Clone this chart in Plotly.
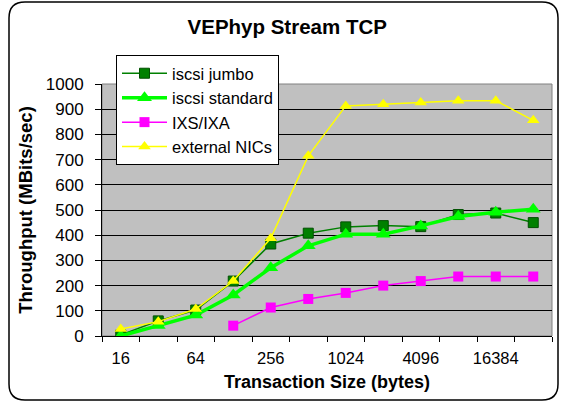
import plotly.graph_objects as go

# transaction sizes (bytes) and throughput values (MBits/sec)
sizes = ['16', '32', '64', '128', '256', '512', '1024', '2048', '4096', '8192', '16384', '32768']
size_labels = ['16', '', '64', '', '256', '', '1024', '', '4096', '', '16384', '']

iscsi_jumbo = [4, 60, 103, 218, 365, 408, 433, 438, 434, 482, 488, 450]
iscsi_standard = [0, 42, 83, 163, 271, 358, 404, 404, 437, 474, 491, 503]
ixs_ixa = [None, None, None, 41, 113, 147, 171, 200, 218, 236, 236, 236]
external_nics = [28, 57, 107, 218, 388, 715, 913, 920, 927, 934, 934, 856]

FONT = 'Liberation Sans, Arial, sans-serif'

# plot area in pixels (used to place the outer frame and legend)
L, R, T, B = 102, 552, 84, 336
W, H = 561, 402


def px(x):
    return (x - L) / (R - L)


def py(y):
    return (B - y) / (B - T)


fig = go.Figure()

fig.add_trace(go.Scatter(
    x=sizes, y=iscsi_jumbo, name='iscsi jumbo', mode='lines+markers',
    line=dict(color='#008000', width=1.5),
    marker=dict(symbol='square', size=10, color='#008000',
                line=dict(color='#005000', width=1))))
fig.add_trace(go.Scatter(
    x=sizes, y=iscsi_standard, name='iscsi standard', mode='lines+markers',
    line=dict(color='#00FF00', width=3.5),
    marker=dict(symbol='triangle-up', size=13, color='#00FF00')))
fig.add_trace(go.Scatter(
    x=sizes, y=ixs_ixa, name='IXS/IXA', mode='lines+markers',
    line=dict(color='#FF00FF', width=1.5),
    marker=dict(symbol='square', size=10, color='#FF00FF')))
fig.add_trace(go.Scatter(
    x=sizes, y=external_nics, name='external NICs', mode='lines+markers',
    line=dict(color='#FFFF00', width=1.5),
    marker=dict(symbol='triangle-up', size=11, color='#FFFF00')))

# rounded outer frame
x0, x1, y0, y1, r = 9, 558, 2, 400, 16
path = ('M {a},{b} L {c},{b} Q {d},{b} {d},{e} L {d},{f} Q {d},{g} {c},{g} '
        'L {a},{g} Q {h},{g} {h},{f} L {h},{e} Q {h},{b} {a},{b} Z').format(
    a=px(x0 + r), b=py(y0), c=px(x1 - r), d=px(x1), e=py(y0 + r),
    f=py(y1 - r), g=py(y1), h=px(x0))

fig.update_layout(
    width=W, height=H,
    margin=dict(l=L, r=W - R, t=T, b=H - B, autoexpand=False),
    paper_bgcolor='white',
    plot_bgcolor='#C0C0C0',
    font=dict(family=FONT, color='black', size=16),
    title=dict(text='<b>VEPhyp Stream TCP</b>', x=0.512, xanchor='center',
               y=1 - 27 / H, yanchor='middle', font=dict(size=20.5)),
    showlegend=True,
    legend=dict(x=px(116), y=py(55), xanchor='left', yanchor='top',
                bgcolor='white', bordercolor='black', borderwidth=1,
                font=dict(size=16.5), tracegroupgap=0, itemwidth=45),
    shapes=[
        dict(type='rect', xref='paper', yref='paper', x0=0, x1=1, y0=0, y1=1,
             line=dict(color='#808080', width=1), layer='below'),
        dict(type='path', xref='paper', yref='paper', path=path,
             line=dict(color='black', width=1.5)),
    ],
)

fig.update_xaxes(
    type='category', range=[-0.5, 11.5], automargin=False,
    tickmode='array', tickvals=sizes, ticktext=size_labels, tickangle=0,
    tickson='boundaries', ticks='outside', ticklen=5, tickcolor='black',
    showline=True, linecolor='black', linewidth=1, showgrid=False,
    tickfont=dict(size=16.5), ticklabelstandoff=7,
    title=dict(text='<b>Transaction Size (bytes)</b>', font=dict(size=18), standoff=9),
)
fig.update_yaxes(
    range=[0, 1000], dtick=100, tick0=0, automargin=False,
    ticks='outside', ticklen=6, tickcolor='black',
    showline=True, linecolor='black', linewidth=1,
    showgrid=True, gridcolor='black', gridwidth=1, zeroline=False,
    tickfont=dict(size=17), ticklabelstandoff=8,
    title=dict(text='<b>Throughput (MBits/sec)</b>', font=dict(size=18.5), standoff=8),
)

# let the figure fill the window from its top-left corner
fig.write_html('out.html', config={'displayModeBar': False},
               post_script="document.body.style.margin = '0';")
